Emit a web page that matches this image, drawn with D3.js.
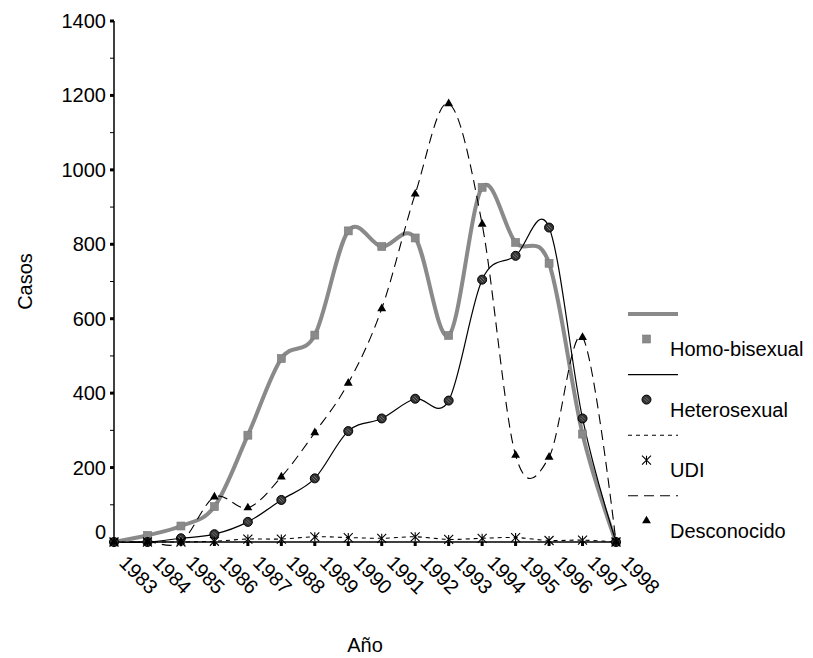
<!DOCTYPE html>
<html>
<head>
<meta charset="utf-8">
<script src="https://cdn.jsdelivr.net/npm/d3@7"></script>
<style>
  body { margin: 0; background: #fff; }
  svg { display: block; }
  text { font-family: "Liberation Sans", Arial, sans-serif; fill: #000; }
</style>
</head>
<body>
<svg id="chart" width="813" height="658"></svg>
<script>
// ---- data ----
const years = [1983,1984,1985,1986,1987,1988,1989,1990,1991,1992,1993,1994,1995,1996,1997,1998];
const homoBisexual = [0, 18, 43, 95, 287, 493, 556, 836, 794, 817, 555, 953, 805, 749, 290, 0];
const heterosexual = [0, 0, 10, 21, 54, 113, 171, 298, 332, 385, 380, 705, 769, 845, 332, 0];
const udi          = [0, 0, 0, 2, 8, 8, 14, 12, 10, 14, 7, 10, 12, 4, 5, 0];
const desconocido  = [0, 0, 0, 121, 92, 175, 294, 427, 627, 935, 1178, 854, 233, 228, 550, 0];
const yTicks = [0, 200, 400, 600, 800, 1000, 1200, 1400];
const yMinorTicks = [100, 300, 500, 700, 900, 1100, 1300];
const seriesNames = ["Homo-bisexual", "Heterosexual", "UDI", "Desconocido"];
const yTitle = "Casos";
const xTitle = "Año";

// ---- layout ----
const svg = d3.select("#chart");
const x = d3.scaleLinear().domain([1983, 1998]).range([114, 616]);
const y = d3.scaleLinear().domain([0, 1400]).range([542, 21]);

const series = [
  {name: seriesNames[0], values: homoBisexual, stroke: "#8a8a8a", width: 4, dash: null, marker: "square"},
  {name: seriesNames[1], values: heterosexual, stroke: "#000", width: 1.2, dash: null, marker: "circle"},
  {name: seriesNames[2], values: udi, stroke: "#000", width: 1.1, dash: "4,4", marker: "star"},
  {name: seriesNames[3], values: desconocido, stroke: "#000", width: 1.1, dash: "10,6", marker: "triangle"}
];

function drawMarker(g, type, cx, cy) {
  if (type === "square") {
    g.append("rect").attr("x", cx - 4).attr("y", cy - 4).attr("width", 8).attr("height", 8)
      .attr("fill", "#8a8a8a").attr("stroke", "#7a7a7a").attr("stroke-width", 0.6);
  } else if (type === "circle") {
    g.append("circle").attr("cx", cx).attr("cy", cy).attr("r", 4.5)
      .attr("fill", "#333").attr("stroke", "#000").attr("stroke-width", 1);
    g.append("path").attr("d", `M${cx-2.5},${cy-1}L${cx+1},${cy+2.5}M${cx-1},${cy-2.5}L${cx+2.5},${cy+1}`)
      .attr("stroke", "#888").attr("stroke-width", 0.8);
  } else if (type === "triangle") {
    g.append("path").attr("d", d3.symbol(d3.symbolTriangle, 34)())
      .attr("transform", `translate(${cx},${cy})`).attr("fill", "#000");
  } else if (type === "star") {
    const s = 4.5;
    g.append("path")
      .attr("d", `M${cx-s},${cy-s}L${cx+s},${cy+s}M${cx+s},${cy-s}L${cx-s},${cy+s}M${cx},${cy-s}L${cx},${cy+s}`)
      .attr("stroke", "#000").attr("stroke-width", 1.1).attr("fill", "none");
  }
}

// ---- axes ----
const axisG = svg.append("g");
axisG.append("line").attr("x1", 114).attr("x2", 114).attr("y1", y(1400)).attr("y2", y(0))
  .attr("stroke", "#000").attr("stroke-width", 1.5);
axisG.append("line").attr("x1", 114).attr("x2", x(1998) + 4).attr("y1", y(0)).attr("y2", y(0))
  .attr("stroke", "#000").attr("stroke-width", 1.5);

yTicks.forEach(v => {
  if (v > 0) {
    axisG.append("rect").attr("x", 110).attr("y", y(v) - 1.5).attr("width", 4).attr("height", 3).attr("fill", "#000");
  }
  axisG.append("text").attr("x", 106).attr("y", y(v) + (v === 0 ? -10 : 0)).attr("dy", "0.35em")
    .attr("text-anchor", "end").attr("font-size", 20).text(v);
});
yMinorTicks.forEach(v => {
  axisG.append("line").attr("x1", 110).attr("x2", 114).attr("y1", y(v)).attr("y2", y(v))
    .attr("stroke", "#000").attr("stroke-width", 1);
});
years.forEach(yr => {
  axisG.append("rect").attr("x", x(yr) - 1.5).attr("y", y(0)).attr("width", 3).attr("height", 4).attr("fill", "#000");
  axisG.append("text").attr("transform", `translate(${x(yr) + 4},564) rotate(45)`)
    .attr("text-anchor", "start").attr("font-size", 20).text(yr);
});

svg.append("text").attr("transform", `translate(32,${(y(0) + y(1400)) / 2}) rotate(-90)`)
  .attr("text-anchor", "middle").attr("font-size", 20).text(yTitle);
svg.append("text").attr("x", (x(1983) + x(1998)) / 2).attr("y", 652)
  .attr("text-anchor", "middle").attr("font-size", 20).text(xTitle);

// ---- series ----
const line = d3.line().x((d, i) => x(years[i])).y(d => y(d)).curve(d3.curveCardinal);
series.forEach(s => {
  svg.append("path").datum(s.values).attr("d", line)
    .attr("fill", "none").attr("stroke", s.stroke).attr("stroke-width", s.width)
    .attr("stroke-dasharray", s.dash).attr("stroke-linejoin", "round");
});
series.forEach(s => {
  const g = svg.append("g");
  s.values.forEach((v, i) => drawMarker(g, s.marker, x(years[i]), y(v)));
});

// ---- legend ----
const leg = svg.append("g");
series.forEach((s, i) => {
  const ly = 314 + 60.6 * i;
  leg.append("line").attr("x1", 628).attr("x2", 678).attr("y1", ly).attr("y2", ly)
    .attr("stroke", s.stroke).attr("stroke-width", s.width).attr("stroke-dasharray", s.dash);
  drawMarker(leg, s.marker, 646.5, ly + 25);
  leg.append("text").attr("x", 670).attr("y", ly + 42).attr("font-size", 20).text(s.name);
});
</script>
</body>
</html>
